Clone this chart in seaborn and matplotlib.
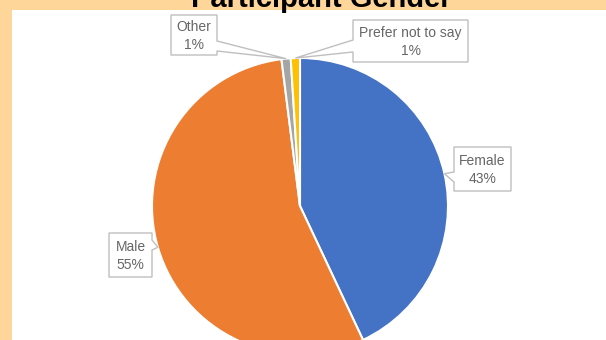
import matplotlib
matplotlib.use("Agg")
import matplotlib.pyplot as plt
import numpy as np
import seaborn as sns
from matplotlib.patches import Polygon, Rectangle

# Survey breakdown (percent of participants)
categories = ["Female", "Male", "Other", "Prefer not to say"]
shares = [43, 55, 1, 1]
slice_colors = ["#4472C4", "#ED7D31", "#A5A5A5", "#FFC000"]
title = "Participant Gender"

sns.set_theme(style="white")
plt.rcParams["font.family"] = ["Liberation Sans", "DejaVu Sans"]

W, H = 606, 340
fig = plt.figure(figsize=(W / 100, H / 100), dpi=100)
fig.patch.set_facecolor("#FFD699")
ax = fig.add_axes([0, 0, 1, 1])

palette = sns.color_palette(slice_colors)
wedges, _ = ax.pie(
    shares,
    colors=palette,
    startangle=-90,
    counterclock=True,  # y axis is flipped below, so this runs clockwise on screen
    center=(300, 206),
    radius=148,
    wedgeprops=dict(edgecolor="white", linewidth=1.5),
)
ax.set_xlim(0, W)
ax.set_ylim(H, 0)
ax.set_aspect("auto")
ax.axis("off")

# white chart area inside the peach frame
ax.add_patch(Rectangle((12, 10), W, H, facecolor="white", edgecolor="none", zorder=0))

# callout boxes: (x0, y0, x1, y1), side carrying the pointer, pointer base span
callouts = {
    "Female": ((454, 147, 511, 191), "left", (172, 182)),
    "Male": ((109, 233, 152, 277), "right", (240, 250)),
    "Other": ((171, 15, 217, 55), "right", (41, 51)),
    "Prefer not to say": ((353, 20, 468, 62), "left", (40, 52)),
}

for wedge, cat, share in zip(wedges, categories, shares):
    (x0, y0, x1, y1), side, (b0, b1) = callouts[cat]
    mid = np.deg2rad((wedge.theta1 + wedge.theta2) / 2)
    cx, cy = wedge.center
    tip = (cx + wedge.r * np.cos(mid), cy + wedge.r * np.sin(mid))
    pts = [(x0, y0), (x1, y0)]
    if side == "right":
        pts += [(x1, b0), tip, (x1, b1)]
    pts += [(x1, y1), (x0, y1)]
    if side == "left":
        pts += [(x0, b1), tip, (x0, b0)]
    ax.add_patch(Polygon(pts, closed=True, facecolor="white",
                         edgecolor="#BFBFBF", linewidth=1.0, zorder=4))
    ax.text((x0 + x1) / 2, (y0 + y1) / 2 + 1, f"{cat}\n{share}%",
            ha="center", va="center", fontsize=10, color="#666666",
            linespacing=1.35, zorder=5)

ax.text(321, 7, title, ha="center", va="baseline", fontsize=21,
        fontweight="bold", color="black", zorder=6, clip_on=False)

fig.savefig("out.png", dpi=100, facecolor=fig.get_facecolor())
